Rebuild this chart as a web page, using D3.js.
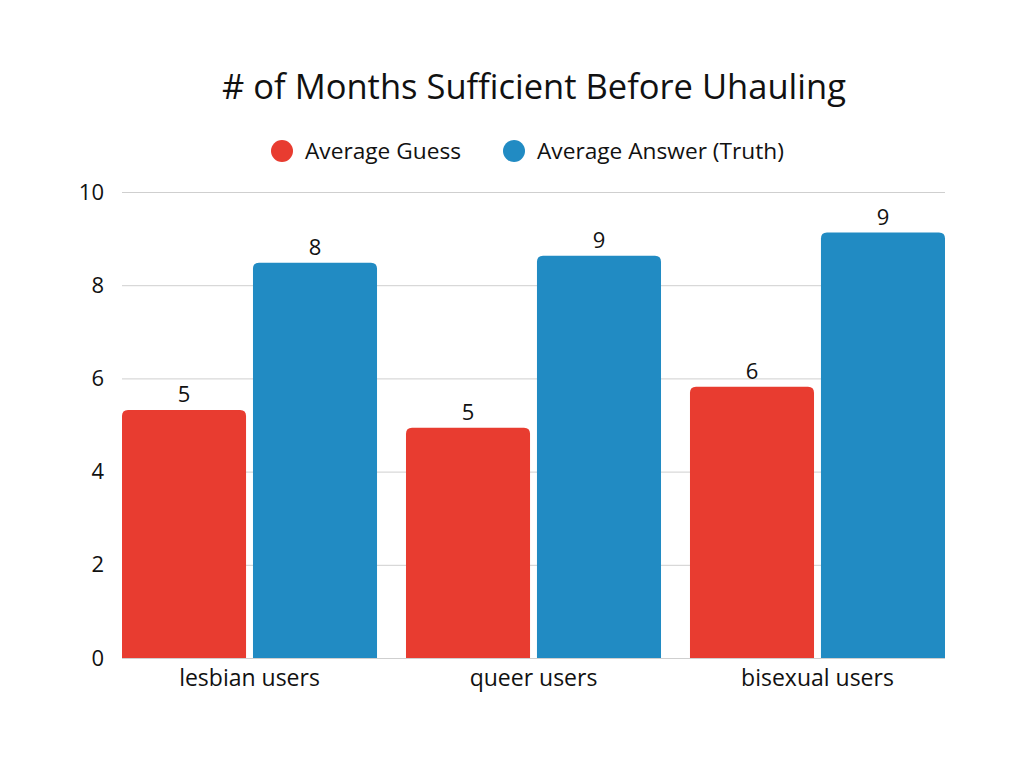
<!DOCTYPE html>
<html>
<head>
<meta charset="utf-8">
<script src="https://cdn.jsdelivr.net/npm/d3@7"></script>
<style>
  body { margin: 0; background: #fff; }
  svg text { font-family: "Open Sans", "Noto Sans", sans-serif; fill: #111; }
</style>
</head>
<body>
<svg width="1024" height="768"></svg>
<script>
// data
var categories = ["lesbian users", "queer users", "bisexual users"];
var seriesNames = ["Average Guess", "Average Answer (Truth)"];
var guessValues = [5.32, 4.94, 5.82];
var answerValues = [8.48, 8.63, 9.13];
var yTicks = [0, 2, 4, 6, 8, 10];
var colors = ["#e83c30", "#218bc3"];

var svg = d3.select("svg");
var margin = {left: 122, right: 79, top: 192, bottom: 110};
var width = +svg.attr("width");
var height = +svg.attr("height");

var x0 = d3.scaleBand()
	.domain(categories)
	.range([margin.left, width - margin.right])
	.paddingInner(0.102)
	.paddingOuter(0);

var x1 = d3.scaleBand()
	.domain(seriesNames)
	.range([0, x0.bandwidth()])
	.paddingInner(0.053);

var y = d3.scaleLinear()
	.domain([0, 10])
	.range([height - margin.bottom, margin.top]);

//Title
svg.append("text")
	.attr("x", 534)
	.attr("y", 99)
	.attr("text-anchor", "middle")
	.style("font-size", "34.5px")
	.text("# of Months Sufficient Before Uhauling");

//Legend
var legend = svg.append("g").attr("class", "legend");
var legendX = [282, 514];
seriesNames.forEach(function(name, i) {
	legend.append("circle")
		.attr("cx", legendX[i])
		.attr("cy", 151)
		.attr("r", 11)
		.attr("fill", colors[i]);
	legend.append("text")
		.attr("x", legendX[i] + 23)
		.attr("y", 159)
		.style("font-size", "22.7px")
		.text(name);
});

//Gridlines and y labels
var yAxis = svg.append("g")
	.attr("transform", "translate(" + margin.left + ",0)")
	.call(d3.axisLeft(y).tickValues(yTicks).tickSize(-(width - margin.left - margin.right)).tickPadding(18));
yAxis.select(".domain").remove();
yAxis.selectAll(".tick line").attr("stroke", "#cfcfcf").attr("stroke-width", 1);
yAxis.selectAll(".tick text").style("font-size", "22px").attr("fill", "#111");

//x labels
var xAxis = svg.append("g")
	.attr("transform", "translate(0," + (height - margin.bottom) + ")")
	.call(d3.axisBottom(x0).tickSize(0).tickPadding(12));
xAxis.select(".domain").remove();
xAxis.selectAll(".tick text").style("font-size", "23px").attr("fill", "#111");

//Bars
var rows = categories.map(function(c, i) {
	return {cat: c, values: [guessValues[i], answerValues[i]]};
});

function topRounded(x, yTop, w, h, r) {
	return "M" + x + "," + (yTop + h) +
		"V" + (yTop + r) +
		"Q" + x + "," + yTop + " " + (x + r) + "," + yTop +
		"H" + (x + w - r) +
		"Q" + (x + w) + "," + yTop + " " + (x + w) + "," + (yTop + r) +
		"V" + (yTop + h) + "Z";
}

var groups = svg.append("g")
	.selectAll("g")
	.data(rows)
	.enter().append("g")
	.attr("transform", function(d) { return "translate(" + x0(d.cat) + ",0)"; });

var bars = groups.selectAll("g")
	.data(function(d) {
		return d.values.map(function(v, i) { return {name: seriesNames[i], value: v, i: i}; });
	})
	.enter().append("g");

bars.append("path")
	.attr("fill", function(d) { return colors[d.i]; })
	.attr("d", function(d) {
		return topRounded(x1(d.name), y(d.value), x1.bandwidth(), y(0) - y(d.value), 6);
	});

bars.append("text")
	.attr("x", function(d) { return x1(d.name) + x1.bandwidth() / 2; })
	.attr("y", function(d) { return y(d.value) - 8; })
	.attr("text-anchor", "middle")
	.style("font-size", "22px")
	.text(function(d) { return Math.round(d.value); });
</script>
</body>
</html>
